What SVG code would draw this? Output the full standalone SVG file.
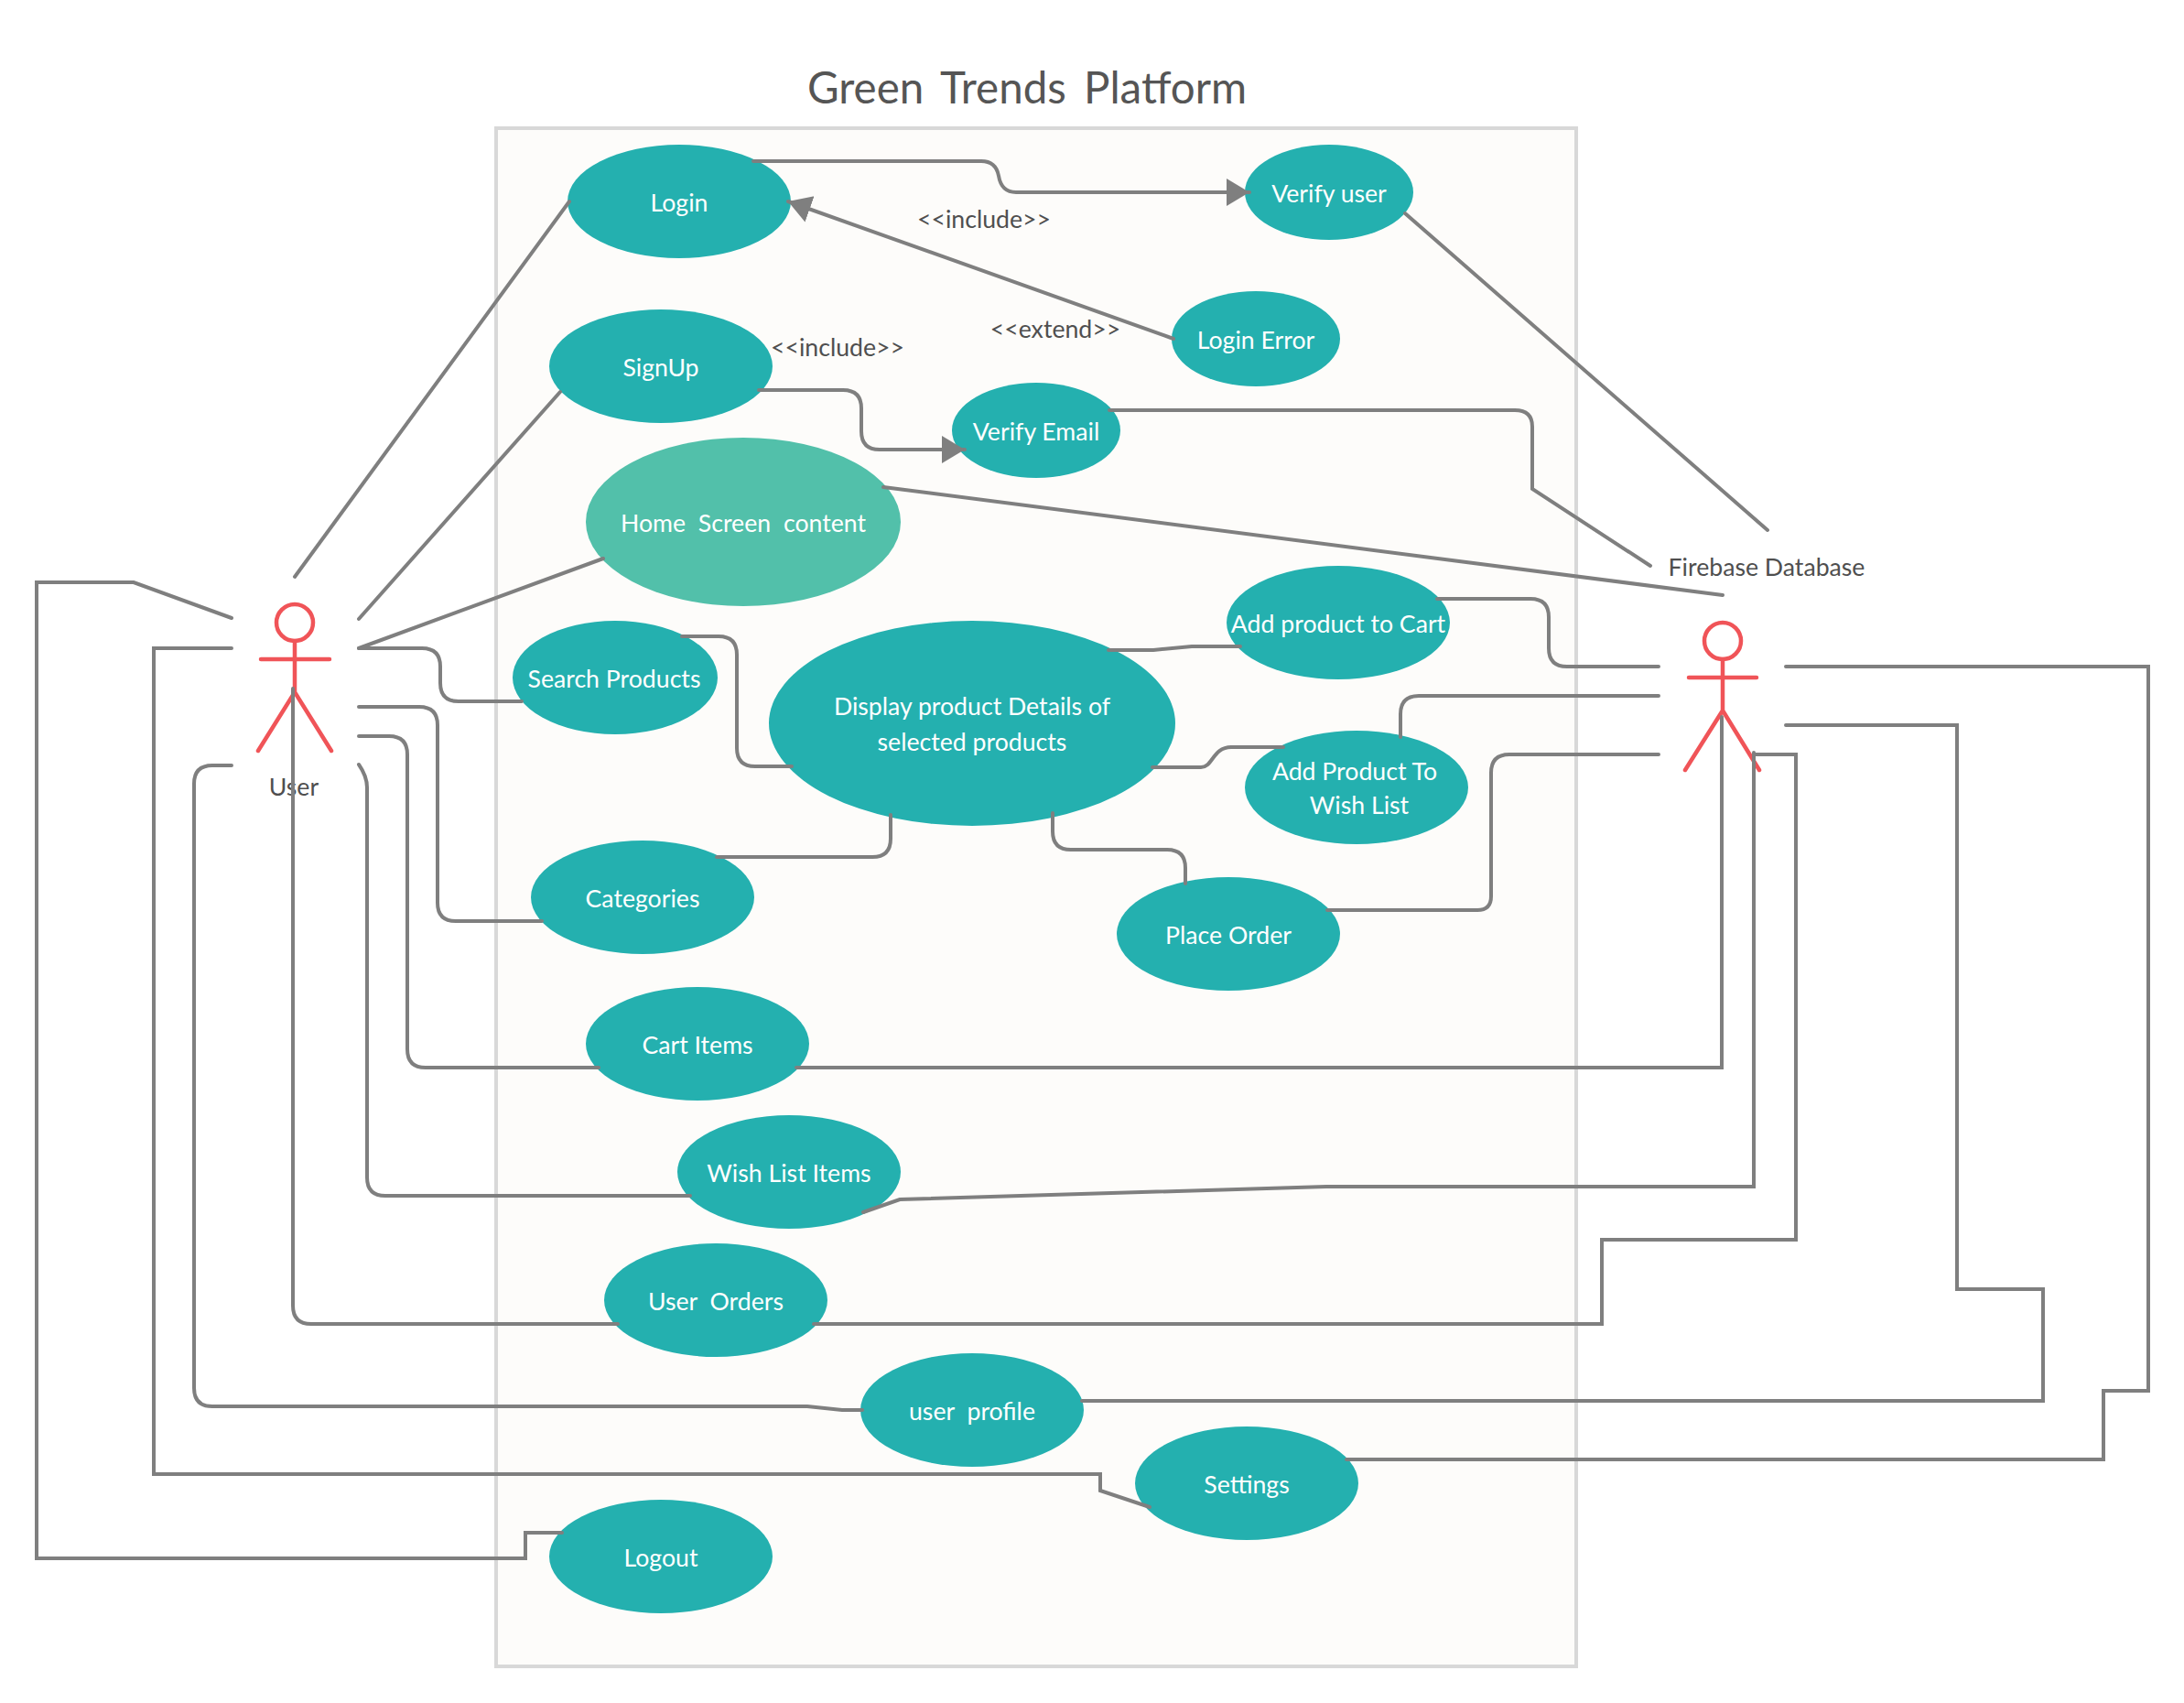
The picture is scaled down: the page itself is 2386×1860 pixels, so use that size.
<svg xmlns="http://www.w3.org/2000/svg" width="2386" height="1860" viewBox="0 0 2386 1860">
<style>
text{font-family:"Lato","Liberation Sans",sans-serif;text-anchor:middle;dominant-baseline:central}
.uc{fill:#24b0af}
.home{fill:#52c0aa}
.t{fill:#ffffff;font-size:26.67px}
.w{word-spacing:7px}
.l{fill:#4f4f4f;font-size:26.67px}
.actor{fill:none;stroke:#f05458;stroke-width:4.5;stroke-linecap:round}
.c{fill:none;stroke:#7f7f7f;stroke-width:4;stroke-linejoin:miter;stroke-linecap:round}
</style>
<defs>
<marker id="arrow" markerUnits="userSpaceOnUse" markerWidth="28" markerHeight="32" refX="25" refY="16" orient="auto"><path d="M0,1 L25,16 L0,31 Z" fill="#7f7f7f"/></marker>
</defs>
<rect width="2386" height="1860" fill="#ffffff"/>
<text x="1122" y="94" style="font-size:47.5px;fill:#555555;word-spacing:7px">Green Trends Platform</text>
<rect id="boundary" x="542" y="140" width="1180" height="1680" fill="#fdfcfa" stroke="#d8d8d8" stroke-width="4"/>

<g id="actor-user"><g class="actor"><ellipse cx="322" cy="680" rx="20" ry="20"/><path d="M322,700 V756 M285,720 H360 M322,756 L282,820 M322,756 L362,820"/></g><text class="l" x="321" y="859">User</text></g>
<g id="actor-firebase"><g class="actor"><ellipse cx="1882" cy="700" rx="20" ry="20"/><path d="M1882,720 V776 M1845,740 H1919 M1882,776 L1841,841 M1882,776 L1922,841"/></g><text class="l" x="1930" y="619">Firebase Database</text></g>

<g id="n-login"><ellipse class="uc" cx="742" cy="220" rx="122" ry="62"/><text class="t" x="742" y="221">Login</text></g>
<g id="n-verify-user"><ellipse class="uc" cx="1452" cy="210" rx="92" ry="52"/><text class="t" x="1452" y="211">Verify user</text></g>
<g id="n-login-error"><ellipse class="uc" cx="1372" cy="370" rx="92" ry="52"/><text class="t" x="1372" y="371">Login Error</text></g>
<g id="n-signup"><ellipse class="uc" cx="722" cy="400" rx="122" ry="62"/><text class="t" x="722" y="401">SignUp</text></g>
<g id="n-verify-email"><ellipse class="uc" cx="1132" cy="470" rx="92" ry="52"/><text class="t" x="1132" y="471">Verify Email</text></g>
<g id="n-home"><ellipse class="home" cx="812" cy="570" rx="172" ry="92"/><text class="t w" x="812" y="571">Home Screen content</text></g>
<g id="n-search"><ellipse class="uc" cx="672" cy="740" rx="112" ry="62"/><text class="t" x="671" y="741">Search Products</text></g>
<g id="n-display"><ellipse class="uc" cx="1062" cy="790" rx="222" ry="112"/><text class="t" x="1062" y="771">Display product Details of</text><text class="t" x="1062" y="810">selected products</text></g>
<g id="n-add-cart"><ellipse class="uc" cx="1462" cy="680" rx="122" ry="62"/><text class="t" x="1462" y="681">Add product to Cart</text></g>
<g id="n-add-wish"><ellipse class="uc" cx="1482" cy="860" rx="122" ry="62"/><text class="t" x="1480" y="842">Add Product To</text><text class="t" x="1485" y="879">Wish List</text></g>
<g id="n-categories"><ellipse class="uc" cx="702" cy="980" rx="122" ry="62"/><text class="t" x="702" y="981">Categories</text></g>
<g id="n-place-order"><ellipse class="uc" cx="1342" cy="1020" rx="122" ry="62"/><text class="t" x="1342" y="1021">Place Order</text></g>
<g id="n-cart-items"><ellipse class="uc" cx="762" cy="1140" rx="122" ry="62"/><text class="t" x="762" y="1141">Cart Items</text></g>
<g id="n-wish-items"><ellipse class="uc" cx="862" cy="1280" rx="122" ry="62"/><text class="t" x="862" y="1281">Wish List Items</text></g>
<g id="n-user-orders"><ellipse class="uc" cx="782" cy="1420" rx="122" ry="62"/><text class="t w" x="782" y="1421">User Orders</text></g>
<g id="n-user-profile"><ellipse class="uc" cx="1062" cy="1540" rx="122" ry="62"/><text class="t w" x="1062" y="1541">user profile</text></g>
<g id="n-settings"><ellipse class="uc" cx="1362" cy="1620" rx="122" ry="62"/><text class="t" x="1362" y="1621">Settings</text></g>
<g id="n-logout"><ellipse class="uc" cx="722" cy="1700" rx="122" ry="62"/><text class="t" x="722" y="1701">Logout</text></g>

<g id="connectors" class="c">
<path d="M322,630 L622,220"/>
<path d="M392,676 L612,428"/>
<path d="M392,708 L659,610"/>
<path d="M392,708 H461 Q481,708 481,728 V746 Q481,766 501,766 H570"/>
<path d="M392,772 H458 Q478,772 478,792 V986 Q478,1006 498,1006 H592"/>
<path d="M392,804 H425 Q445,804 445,824 V1146 Q445,1166 465,1166 H654"/>
<path d="M870,1166 H1881 V783"/>
<path d="M392,835 Q401,848 401,860 V1286 Q401,1306 421,1306 H754"/>
<path d="M943,1324 L983,1310 L1449,1296 H1916 V822"/>
<path d="M320,752 V1426 Q320,1446 340,1446 H675"/>
<path d="M889,1446 H1750 V1354 H1962 V824 H1916"/>
<path d="M253,836 H232 Q212,836 212,856 V1516 Q212,1536 232,1536 H882 L920,1540 H942"/>
<path d="M1182,1530 H2232 V1408 H2138 V792 H1951"/>
<path d="M253,708 H168 V1610 H1202 V1628 L1256,1646"/>
<path d="M1471,1594 H2298 V1519 H2347 V728 H1951"/>
<path d="M253,675 L146,636 H40 V1702 H574 V1674 H614"/>
<path d="M1535,233 L1931,579"/>
<path d="M1212,448 H1655 Q1674,448 1674,466 V534 L1803,618"/>
<path d="M965,532 L1882,650"/>
<path d="M1570,654 H1672 Q1692,654 1692,674 V708 Q1692,728 1712,728 H1812"/>
<path d="M1530,805 V780 Q1530,760 1550,760 H1812"/>
<path d="M1450,994 H1614 Q1629,994 1629,979 V844 Q1629,824 1649,824 H1812"/>
<path d="M1211,710 H1260 L1302,706 H1355"/>
<path d="M1259,838 H1312 C1325,838 1325,816 1345,816 H1402"/>
<path d="M1150,888 V908 Q1150,928 1170,928 H1275 Q1295,928 1295,948 V965"/>
<path d="M745,695 H785 Q805,695 805,715 V817 Q805,837 825,837 H865"/>
<path d="M783,936 H953 Q973,936 973,916 V890"/>
<path d="M823,176 H1072 Q1088,176 1091,192 Q1094,210 1110,210 H1365" marker-end="url(#arrow)"/>
<path d="M1282,370 L861,220" marker-end="url(#arrow)"/>
<path d="M829,426 H921 Q941,426 941,446 V471 Q941,491 961,491 H1054" marker-end="url(#arrow)"/>
</g>
<g id="labels">
<text class="l" x="1075" y="239">&lt;&lt;include&gt;&gt;</text>
<text class="l" x="1153" y="359">&lt;&lt;extend&gt;&gt;</text>
<text class="l" x="915" y="379">&lt;&lt;include&gt;&gt;</text>
</g>
</svg>
